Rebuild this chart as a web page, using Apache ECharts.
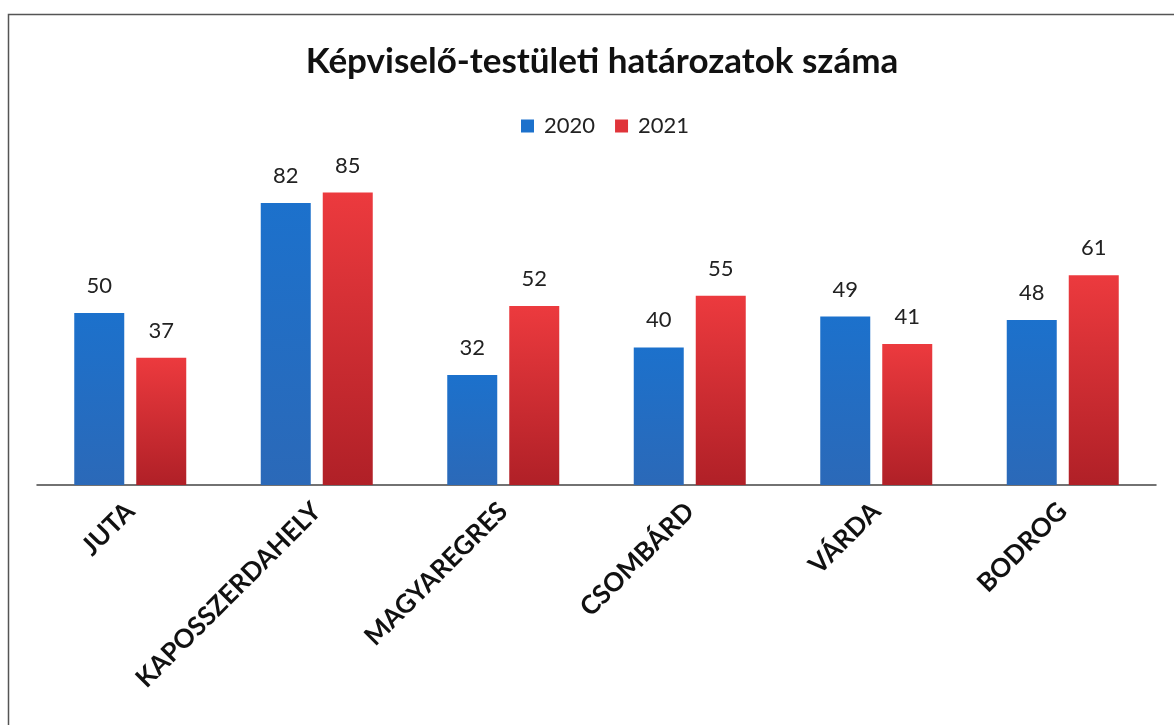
<!DOCTYPE html>
<html>
<head>
<meta charset="utf-8">
<script src="https://cdn.jsdelivr.net/npm/echarts@6/dist/echarts.min.js"></script>
<style>html,body{margin:0;padding:0;background:#fff}#c{width:1174px;height:725px}</style>
</head>
<body>
<div id="c"></div>
<script>
const categories = ['JUTA', 'KAPOSSZERDAHELY', 'MAGYAREGRES', 'CSOMBÁRD', 'VÁRDA', 'BODROG'];
const values2020 = [50, 82, 32, 40, 49, 48];
const values2021 = [37, 85, 52, 55, 41, 61];
const seriesNames = ['2020', '2021'];

const chart = echarts.init(document.getElementById('c'));
const fontFam = 'Lato, "Open Sans", sans-serif';
const blueGrad = new echarts.graphic.LinearGradient(0, 0, 0, 1, [
  {offset: 0, color: '#1c71cc'}, {offset: 1, color: '#2b69b8'}]);
const redGrad = new echarts.graphic.LinearGradient(0, 0, 0, 1, [
  {offset: 0, color: '#ec3a3e'}, {offset: 1, color: '#b02027'}]);
const lbl = {show: true, position: 'top', distance: 16, fontSize: 22, color: '#222', fontFamily: fontFam};

chart.setOption({
  backgroundColor: '#fff',
  animation: false,
  graphic: [{
    type: 'rect', left: 6, top: 12,
    shape: {width: 1180, height: 730},
    style: {fill: 'none', stroke: '#555', lineWidth: 1.5}
  }],
  title: {
    text: 'Képviselő-testületi határozatok száma',
    left: 597, textAlign: 'center', top: 39,
    textStyle: {fontSize: 35, fontWeight: 'bold', color: '#111', fontFamily: fontFam}
  },
  legend: {
    top: 110, left: 516,
    itemWidth: 13, itemHeight: 13, itemGap: 20,
    textStyle: {fontSize: 22, color: '#222', fontFamily: fontFam, padding: [0, 0, 0, 5]},
    data: [
      {name: seriesNames[0], icon: 'rect', itemStyle: {color: '#1c71cc'}},
      {name: seriesNames[1], icon: 'rect', itemStyle: {color: '#e0343a'}}
    ]
  },
  grid: {left: 37, right: 18, top: 141, bottom: 240, containLabel: false},
  xAxis: {
    type: 'category', data: categories,
    axisLine: {lineStyle: {color: '#444', width: 1.5}},
    axisTick: {show: false},
    axisLabel: {rotate: 45, fontSize: 26, fontWeight: 'bold', color: '#111', margin: 22, fontFamily: fontFam, interval: 0}
  },
  yAxis: {type: 'value', min: 0, max: 100, show: false, splitLine: {show: false}},
  series: [
    {name: seriesNames[0], type: 'bar', data: values2020, barWidth: 50, barGap: '24%',
     itemStyle: {color: blueGrad}, label: lbl},
    {name: seriesNames[1], type: 'bar', data: values2021, barWidth: 50,
     itemStyle: {color: redGrad}, label: lbl}
  ]
});
</script>
</body>
</html>
